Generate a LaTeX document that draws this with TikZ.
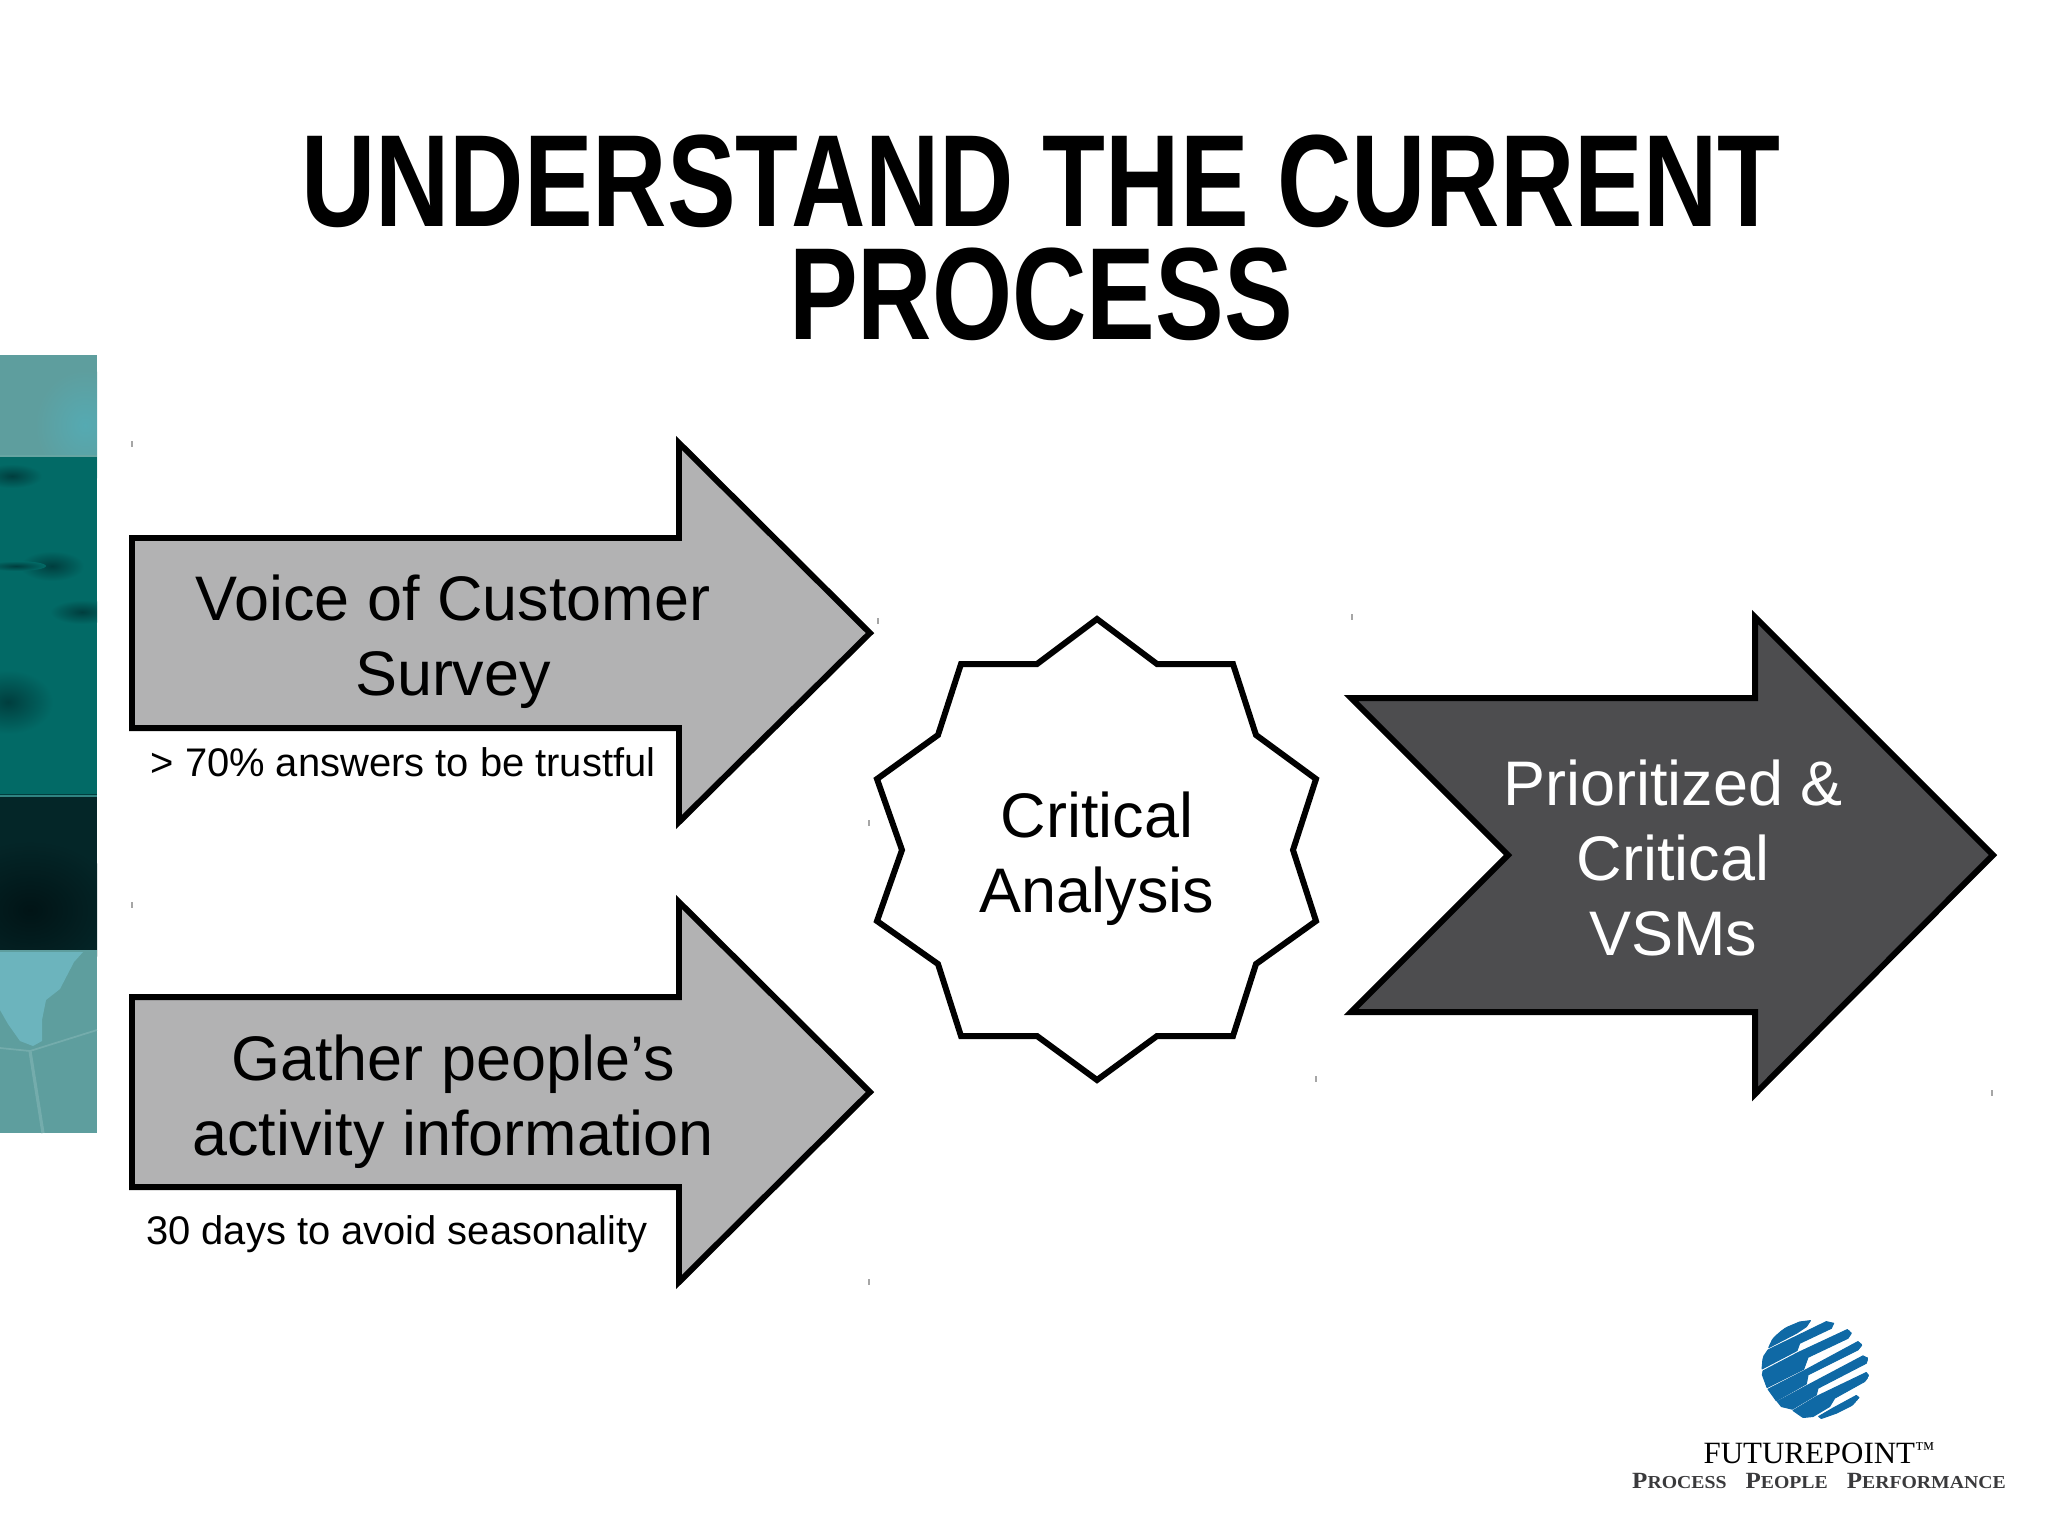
\documentclass[tikz,border=0pt]{standalone}
\usepackage{fontspec}
\setmainfont{Liberation Sans}
\newfontfamily\titlefont[FakeStretch=0.785]{Liberation Sans}
\newfontfamily\logofont{Liberation Serif}
\newfontfamily\mottofont[FakeStretch=1.08]{Liberation Serif}
\usetikzlibrary{positioning}
\definecolor{lightarrow}{RGB}{178, 178, 179}
\definecolor{darkarrow}{RGB}{77, 77, 79}
\definecolor{logoblue}{RGB}{15, 105, 165}
\definecolor{logogray}{RGB}{58, 58, 60}
\definecolor{bandpale}{RGB}{94, 158, 158}
\definecolor{bandlight}{RGB}{85, 170, 178}
\definecolor{bandteal}{RGB}{2, 106, 102}
\definecolor{bandsmudge}{RGB}{0, 62, 62}
\definecolor{banddark}{RGB}{4, 38, 40}
\definecolor{bandblack}{RGB}{1, 20, 22}
\definecolor{bandsky}{RGB}{108, 180, 189}
\definecolor{bandline}{RGB}{116, 172, 172}
\newcommand{\logocap}[2]{{\fontsize{6.6}{8}\selectfont #1}{\fontsize{5.2}{8}\selectfont #2}}

\begin{document}
\begin{tikzpicture}[x=0.01cm,y=-0.01cm,
    outline/.style={draw=black,line width=1.7pt,miter limit=10},
    bigtext/.style={font=\fontsize{17.9}{21.3}\selectfont,align=center,inner sep=0pt},
    smalltext/.style={font=\fontsize{11.35}{13.6}\selectfont,anchor=base,inner sep=0pt},
    handle/.style={draw=black!35,line width=0.3pt},
    smudge/.style={inner color=bandsmudge,outer color=bandteal},
    logobar/.style={fill=logoblue,draw=logoblue,line width=0.3pt,line join=round}]
    \useasboundingbox (0,0) rectangle (2048,1536);

    % Photo strip
    \begin{scope}
      \clip (0,355) rectangle (97,1133);
      \fill[bandpale] (0,355) rectangle (97,456);
      \shade[inner color=bandlight,outer color=bandpale] (85,425) ellipse (50 and 55);
      \fill[bandteal] (0,456) rectangle (97,796);
      \fill[bandteal!60!white] (0,455) rectangle (97,457);
      \shade[smudge] (12,476) ellipse (30 and 12);
      \shade[smudge] (52,566) ellipse (32 and 15);
      \shade[smudge] (16,566) ellipse (30 and 5);
      \shade[smudge] (82,612) ellipse (32 and 12);
      \shade[smudge] (8,702) ellipse (45 and 32);
      \fill[bandsmudge] (0,794) rectangle (97,796);
      \fill[banddark] (0,796) rectangle (97,950);
      \shade[inner color=bandblack,outer color=banddark] (30,910) ellipse (90 and 70);
      \fill[bandteal!50!bandpale] (0,795) rectangle (97,797);
      \fill[bandpale] (0,950) rectangle (97,1133);
      \fill[bandsky] (0,952) -- (83,952) -- (74,962) -- (60,989) -- (46,1000) -- (42,1020) -- (42,1041) -- (33,1046) -- (20,1041) -- (8,1024) -- (0,1010) -- cycle;
      \draw[bandline,line width=0.5pt] (0,1048) -- (30,1051) -- (97,1030);
      \draw[bandline,line width=0.9pt] (30,1051) -- (43,1133);
    \end{scope}

    % Title
    \node[font=\titlefont\bfseries\fontsize{37.3}{32.15}\selectfont,align=center,inner sep=0pt] (title) at (1041,238) {UNDERSTAND THE CURRENT\\PROCESS};

    % Input arrows
    \draw[outline,fill=lightarrow] (132,538) -- (679,538) -- (679,443) -- (870,633) -- (679,822) -- (679,728) -- (132,728) -- cycle;
    \draw[outline,fill=lightarrow] (132,997) -- (679,997) -- (679,902) -- (870,1092) -- (679,1282) -- (679,1187) -- (132,1187) -- cycle;
    \node[bigtext] (voice) at (453,642) {Voice of Customer\\Survey};
    \node[bigtext] (gather) at (453,1102) {Gather people’s\\activity information};
    \node[smalltext] (trust) at (403,776) {> 70\% answers to be trustful};
    \node[smalltext] (season) at (397,1244) {30 days to avoid seasonality};

    % Star
    \draw[outline,fill=white] (1097,619) -- (1157,664) -- (1233,664) -- (1256,735) -- (1316,779) -- (1293,850) -- (1316,921) -- (1256,964) -- (1233,1036) -- (1157,1036) -- (1097,1080) -- (1037,1036) -- (961,1036) -- (938,964) -- (877,921) -- (902,850) -- (877,779) -- (938,735) -- (961,664) -- (1037,664) -- cycle;
    \node[bigtext] (critical) at (1097,859) {Critical\\Analysis};

    % Output arrow
    \draw[outline,fill=darkarrow] (1351,698) -- (1755,698) -- (1755,617) -- (1993,855) -- (1755,1094) -- (1755,1012) -- (1351,1012) -- (1508,855) -- cycle;
    \node[bigtext,text=white] (vsm) at (1673,858) {Prioritized \&\\Critical\\VSMs};

    % Resize handles
    \foreach \x/\y in {132/444, 878/621, 869/823, 132/905, 869/1282, 1352/617, 1316/1079, 1992/1093}
      \draw[handle] (\x,\y-3) -- (\x,\y+3);

    % Logo
    \begin{scope}[shift={(1600,1300)},x=0.00333cm,y=-0.00333cm]
      \clip (647,208) ellipse (162 and 150);
      \draw[logobar] (507,143) -- (520,115) -- (555,85) -- (600,66) -- (632,62) -- (620,80) -- (590,100) -- cycle;
      \draw[logobar] (487,207) -- (490,172) -- (505,150) -- (680,65) -- (702,70) -- (695,85) -- (600,130) -- (592,152) -- cycle;
      \draw[logobar] (488,225) -- (490,213) -- (595,158) -- (745,88) -- (755,100) -- (745,115) -- (625,172) -- (612,208) -- (502,263) -- cycle;
      \draw[logobar] (505,268) -- (612,213) -- (775,125) -- (787,135) -- (775,150) -- (625,225) -- (620,252) -- (530,303) -- cycle;
      \draw[logobar] (533,305) -- (620,258) -- (790,168) -- (805,175) -- (800,190) -- (655,265) -- (650,285) -- (578,328) -- (545,320) -- cycle;
      \draw[logobar] (580,332) -- (650,290) -- (800,218) -- (808,228) -- (795,245) -- (705,295) -- (690,320) -- (640,350) -- (610,353) -- cycle;
      \draw[logobar] (657,350) -- (700,325) -- (770,287) -- (778,293) -- (760,315) -- (710,340) -- (665,356) -- cycle;
    \end{scope}
    \node[font=\logofont\fontsize{8.8}{10}\selectfont,anchor=base,inner sep=0pt] (brand) at (1819,1463) {FUTUREPOINT\raisebox{2pt}{\fontsize{5.6}{6}\selectfont ™}};
    \node[font=\mottofont\bfseries,text=logogray,anchor=base,inner sep=0pt] (motto) at (1819,1488) {\logocap{P}{ROCESS}\ \ \logocap{P}{EOPLE}\ \ \logocap{P}{ERFORMANCE}};
\end{tikzpicture}
\end{document}
